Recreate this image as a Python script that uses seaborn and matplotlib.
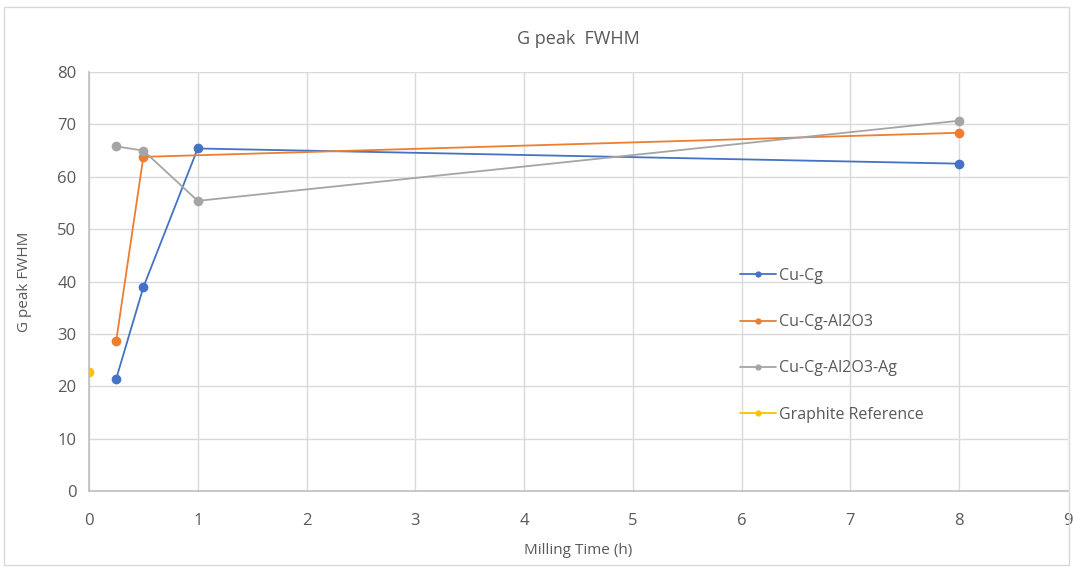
import matplotlib
matplotlib.use("Agg")
import matplotlib.pyplot as plt
import matplotlib.patches as mpatches
import seaborn as sns
import pandas as pd

# Milling time (h) and G-peak FWHM for each sample series
series_names = ["Cu-Cg", "Cu-Cg-Al2O3", "Cu-Cg-Al2O3-Ag", "Graphite Reference"]
cu_cg_time = [0.25, 0.5, 1, 8]
cu_cg_fwhm = [21.4, 38.9, 65.4, 62.5]
al2o3_time = [0.25, 0.5, 8]
al2o3_fwhm = [28.6, 63.8, 68.4]
ag_time = [0.25, 0.5, 1, 8]
ag_fwhm = [65.8, 65.0, 55.4, 70.7]
graphite_time = [0]
graphite_fwhm = [22.8]

x_ticks = list(range(0, 10))
y_ticks = list(range(0, 90, 10))

colors = ["#4472C4", "#ED7D31", "#A5A5A5", "#FFC000"]

frames = []
for name, t, v in zip(series_names,
                      [cu_cg_time, al2o3_time, ag_time, graphite_time],
                      [cu_cg_fwhm, al2o3_fwhm, ag_fwhm, graphite_fwhm]):
    frames.append(pd.DataFrame({"time": t, "fwhm": v, "series": name}))
df = pd.concat(frames, ignore_index=True)

sns.set_style("white")
plt.rcParams["font.family"] = ["Open Sans", "DejaVu Sans"]

fig = plt.figure(figsize=(10.73, 5.67), dpi=100)
ax = fig.add_axes([0.0829, 0.134, 0.9124, 0.739])

sns.lineplot(data=df, x="time", y="fwhm", hue="series", hue_order=series_names,
             palette=colors, marker="o", markersize=7, markeredgewidth=0,
             linewidth=1.3, sort=False, ax=ax, legend=False)

ax.set_xlim(0, 9)
ax.set_ylim(0, 80)
ax.set_xticks(x_ticks)
ax.set_yticks(y_ticks)
ax.grid(True, color="#D9D9D9", linewidth=1.0)
ax.set_axisbelow(True)
for side in ["top", "right"]:
    ax.spines[side].set_visible(False)
for side in ["left", "bottom"]:
    ax.spines[side].set_color("#BFBFBF")
    ax.spines[side].set_linewidth(1.2)
ax.tick_params(axis="both", length=0, labelsize=12, labelcolor="#595959")
ax.tick_params(axis="x", pad=16)
ax.tick_params(axis="y", pad=9)

ax.set_xlabel("Milling Time (h)", fontsize=11, color="#595959", labelpad=10)
ax.set_ylabel("G peak FWHM", fontsize=11, color="#595959", labelpad=18)
ax.set_title("G peak  FWHM", fontsize=13, color="#595959", pad=20)

handles = [plt.Line2D([], [], color=c, marker="o", markersize=4.5,
                      markeredgewidth=0, linewidth=1.3) for c in colors]
leg = ax.legend(handles, series_names, loc="upper left",
                bbox_to_anchor=(0.658, 0.548), frameon=False,
                fontsize=11.5, labelspacing=1.9, handlelength=2.3,
                handletextpad=0.2, borderaxespad=0)
for txt in leg.get_texts():
    txt.set_color("#595959")

# Light chart-area border
fig.patches.append(mpatches.Rectangle((0.004, 0.004), 0.992, 0.984,
                                      transform=fig.transFigure, fill=False,
                                      edgecolor="#D9D9D9", linewidth=1.0))

fig.savefig("out.png", dpi=100, facecolor="white")
